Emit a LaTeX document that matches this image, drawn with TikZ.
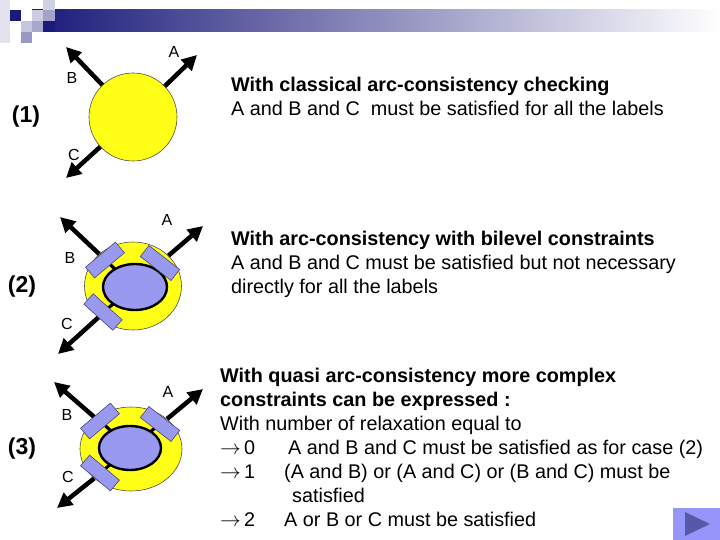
\documentclass[tikz,border=0pt]{standalone}
\usepackage{fontspec}
\setmainfont{Liberation Sans}
\usepackage{xcolor}
\usetikzlibrary{arrows.meta,shapes.geometric}

\definecolor{navy}{RGB}{26,26,122}
\definecolor{sun}{RGB}{255,255,24}
\definecolor{lilac}{RGB}{153,153,240}
\definecolor{padline}{RGB}{70,70,120}
\definecolor{playbg}{RGB}{150,150,250}
\definecolor{playfg}{RGB}{88,88,168}

\begin{document}
\begin{tikzpicture}[x=1pt, y=-1pt,
    body/.style={anchor=base west, inner sep=0pt, font=\fontsize{19.8}{24}\selectfont},
    head/.style={body, font=\fontsize{19.8}{24}\selectfont\bfseries},
    tag/.style={inner sep=0pt, font=\fontsize{16}{18}\selectfont},
    case/.style={inner sep=0pt, font=\fontsize{23}{26}\selectfont\bfseries},
    ray/.style={line width=4.5pt, -{Triangle[length=15pt,width=15pt]}},
    ball/.style={ellipse, draw=black!70, line width=0.6pt, fill=sun, inner sep=0pt},
    core/.style={ellipse, draw=black, line width=2.4pt, fill=lilac, inner sep=0pt},
    padbox/.style={rectangle, draw=padline, line width=0.6pt, fill=lilac,
        minimum width=39pt, minimum height=14pt, inner sep=0pt},
    link/.style={line width=3.2pt}]
    \useasboundingbox (0,0) rectangle (720,540);

    % Title bar
    \shade[left color=navy, right color=white] (32,10) rectangle (720,32);
    \foreach \x/\y/\w/\h/\c in {0/0/10/43/navy!12, 10/10/11/11/navy, 43/0/12/10/navy!20,
        32/10/11/11/navy!22, 43/10/12/11/navy!40, 43/21/12/11/navy,
        21/21/11/11/navy!25, 32/21/11/11/navy!38, 21/32/11/11/navy!45}
        \fill[\c] (\x,\y) rectangle +(\w,\h);

    % Case (1)
    \node[case] (case1) at (26,117) {(1)};
    \node[ball, minimum width=88pt, minimum height=88pt] (ball1) at (133,117) {};
    \coordinate (tipA1) at (197,55);
    \coordinate (tipB1) at (66,47);
    \coordinate (tipC1) at (66,178);
    \draw[ray] (ball1) -- (tipA1);
    \draw[ray] (ball1) -- (tipB1);
    \draw[ray] (ball1) -- (tipC1);
    \node[tag] (labA1) at (174,52) {A};
    \node[tag] (labB1) at (72,78) {B};
    \node[tag] (labC1) at (74,155) {C};
    \node[head] (txt1a) at (231,92) {With classical arc-consistency checking};
    \node[body] (txt1b) at (231,116) {A and B and C\ \ must be satisfied for all the labels};

    % Case (2)
    \node[case] (case2) at (22,287) {(2)};
    \node[ball, minimum width=97pt, minimum height=88pt] (ball2) at (133,286) {};
    \coordinate (tipA2) at (203,226);
    \coordinate (tipB2) at (60,217);
    \coordinate (tipC2) at (58,354);
    \draw[ray] (ball2) -- (tipA2);
    \draw[ray] (ball2) -- (tipB2);
    \draw[ray] (ball2) -- (tipC2);
    \coordinate (o2) at (135,287);
    \coordinate (pA2) at (160,263);
    \coordinate (pB2) at (105,260);
    \coordinate (pC2) at (103,312);
    \draw[link] (pA2) -- (o2);
    \draw[link] (pB2) -- (o2);
    \draw[link] (pC2) -- (o2);
    \node[core, minimum width=64pt, minimum height=46pt] (core2) at (o2) {};
    \node[padbox, rotate=-38] (padA2) at (pA2) {};
    \node[padbox, rotate=40] (padB2) at (pB2) {};
    \node[padbox, rotate=-42] (padC2) at (pC2) {};
    \node[tag] (labA2) at (167,220) {A};
    \node[tag] (labB2) at (70,258) {B};
    \node[tag] (labC2) at (67,324) {C};
    \node[head] (txt2a) at (231,245) {With arc-consistency with bilevel constraints};
    \node[body] (txt2b) at (231,269) {A and B and C must be satisfied but not necessary};
    \node[body] (txt2c) at (231,293) {directly for all the labels};

    % Case (3)
    \node[case] (case3) at (22,449) {(3)};
    \node[ball, minimum width=102pt, minimum height=84pt] (ball3) at (131,449) {};
    \coordinate (tipA3) at (203,389);
    \coordinate (tipB3) at (54,382);
    \coordinate (tipC3) at (57,508);
    \draw[ray] (ball3) -- (tipA3);
    \draw[ray] (ball3) -- (tipB3);
    \draw[ray] (ball3) -- (tipC3);
    \coordinate (o3) at (130,448);
    \coordinate (pA3) at (160,424);
    \coordinate (pB3) at (100,421);
    \coordinate (pC3) at (100,473);
    \draw[link] (pA3) -- (o3);
    \draw[link] (pB3) -- (o3);
    \draw[link] (pC3) -- (o3);
    \node[core, minimum width=62pt, minimum height=44pt] (core3) at (o3) {};
    \node[padbox, rotate=-38] (padA3) at (pA3) {};
    \node[padbox, rotate=40] (padB3) at (pB3) {};
    \node[padbox, rotate=-40] (padC3) at (pC3) {};
    \node[tag] (labA3) at (168,392) {A};
    \node[tag] (labB3) at (67,415) {B};
    \node[tag] (labC3) at (68,477) {C};
    \node[head] (txt3a) at (220,382) {With quasi arc-consistency more complex};
    \node[head] (txt3b) at (220,406) {constraints can be expressed :};
    \node[body] (txt3c) at (220,430) {With number of relaxation equal to};
    \node[body] (rel0) at (220,454) {$\rightarrow$\,0};
    \node[body] (sat0) at (288,454) {A and B and C must be satisfied as for case (2)};
    \node[body] (rel1) at (220,478) {$\rightarrow$\,1};
    \node[body] (sat1) at (284,478) {(A and B) or (A and C) or (B and C) must be};
    \node[body] (sat1b) at (292,502) {satisfied};
    \node[body] (rel2) at (220,526) {$\rightarrow$\,2};
    \node[body] (sat2) at (284,526) {A or B or C must be satisfied};

    % Play button
    \fill[playbg] (673,508) rectangle (720,540);
    \fill[playfg] (685,512) -- (685,536) -- (710,524) -- cycle;
\end{tikzpicture}
\end{document}
